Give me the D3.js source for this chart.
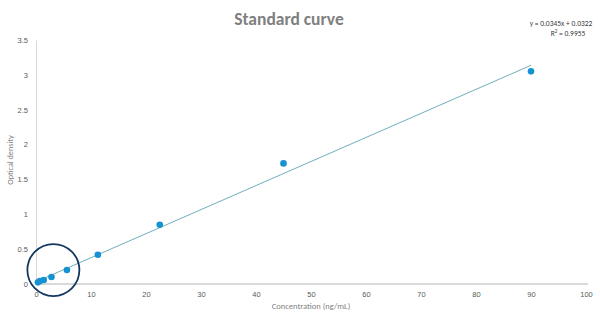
<!DOCTYPE html>
<html>
<head>
<meta charset="utf-8">
<script src="https://cdn.jsdelivr.net/npm/d3@7"></script>
<style>
  body { margin: 0; background: #fff; }
  svg { font-family: Calibri, Carlito, "Open Sans", sans-serif; }
  .tick text { fill: #595959; font-size: 7.5px; }
</style>
</head>
<body>
<svg id="chart" width="600" height="317"></svg>
<script>
// Standard curve data
const concentrations = [0.35, 0.7, 1.4, 2.8125, 5.625, 11.25, 22.5, 45, 90];
const densities = [0.024, 0.043, 0.057, 0.10, 0.20, 0.42, 0.85, 1.73, 3.05];
const xTicks = [0, 10, 20, 30, 40, 50, 60, 70, 80, 90, 100];
const yTicks = [0, 0.5, 1, 1.5, 2, 2.5, 3, 3.5];
const slope = 0.0345;
const intercept = 0.0322;
const rSquared = 0.9955;

const svg = d3.select('#chart');
const margin = {top: 40, right: 14, bottom: 33, left: 36};
const width = 600 - margin.left - margin.right;
const height = 317 - margin.top - margin.bottom;

let xScale = d3.scaleLinear().domain([0, 100]).range([margin.left, margin.left + width]);
let yScale = d3.scaleLinear().domain([0, 3.5]).range([margin.top + height, margin.top]);

// Axes
let xAxis = d3.axisBottom(xScale).tickValues(xTicks).tickSize(0).tickPadding(8);
let yAxis = d3.axisLeft(yScale).tickValues(yTicks).tickSize(0).tickPadding(8)
    .tickFormat(d3.format('~g'));

let gx = svg.append('g')
    .attr('transform', 'translate(0,' + (margin.top + height) + ')')
    .call(xAxis);
gx.select('.domain').attr('stroke', '#d9d9d9').attr('stroke-width', 2)
    .attr('d', 'M' + margin.left + ',0H' + (margin.left + width + 2));

let gy = svg.append('g')
    .attr('transform', 'translate(' + margin.left + ',0)')
    .call(yAxis);
gy.select('.domain').attr('stroke', '#d9d9d9').attr('stroke-width', 1);

// Trendline
let trendX = [0, d3.max(concentrations)];
svg.append('line')
    .attr('x1', xScale(trendX[0]))
    .attr('y1', yScale(slope * trendX[0] + intercept))
    .attr('x2', xScale(trendX[1]))
    .attr('y2', yScale(slope * trendX[1] + intercept))
    .attr('stroke', '#4a9aa8')
    .attr('stroke-width', 0.8);

// Points
svg.selectAll('circle.pt')
    .data(concentrations)
    .enter().append('circle')
    .classed('pt', true)
    .attr('cx', d => xScale(d))
    .attr('cy', (d, i) => yScale(densities[i]))
    .attr('r', 3.3)
    .attr('fill', '#1592d2');

// Highlight circle around low concentrations
svg.append('circle')
    .attr('cx', xScale(3.16))
    .attr('cy', yScale(0.2))
    .attr('r', 26)
    .attr('fill', 'none')
    .attr('stroke', '#13375f')
    .attr('stroke-width', 1.8);

// Title
svg.append('text')
    .attr('x', 289)
    .attr('y', 25)
    .attr('text-anchor', 'middle')
    .attr('font-size', 17.5)
    .attr('font-weight', 'bold')
    .attr('fill', '#7f7f7f')
    .text('Standard curve');

// Equation
svg.append('text')
    .attr('x', 561)
    .attr('y', 26)
    .attr('text-anchor', 'middle')
    .attr('font-size', 7.5)
    .attr('fill', '#404040')
    .text('y = ' + slope + 'x  + ' + intercept);

let r2 = svg.append('text')
    .attr('x', 568)
    .attr('y', 36)
    .attr('text-anchor', 'middle')
    .attr('font-size', 7.5)
    .attr('fill', '#404040');
r2.append('tspan').text('R');
r2.append('tspan').attr('dy', -3).attr('font-size', 5).text('2');
r2.append('tspan').attr('dy', 3).text(' = ' + rSquared);

// Axis titles
svg.append('text')
    .attr('transform', 'translate(13,' + (margin.top + height / 2 - 2) + ') rotate(-90)')
    .attr('text-anchor', 'middle')
    .attr('font-size', 8.2)
    .attr('fill', '#7f7f7f')
    .text('Optical  density');

svg.append('text')
    .attr('x', 311)
    .attr('y', 309)
    .attr('text-anchor', 'middle')
    .attr('font-size', 8.5)
    .attr('fill', '#7f7f7f')
    .text('Concentration  (ng/mL)');
</script>
</body>
</html>
